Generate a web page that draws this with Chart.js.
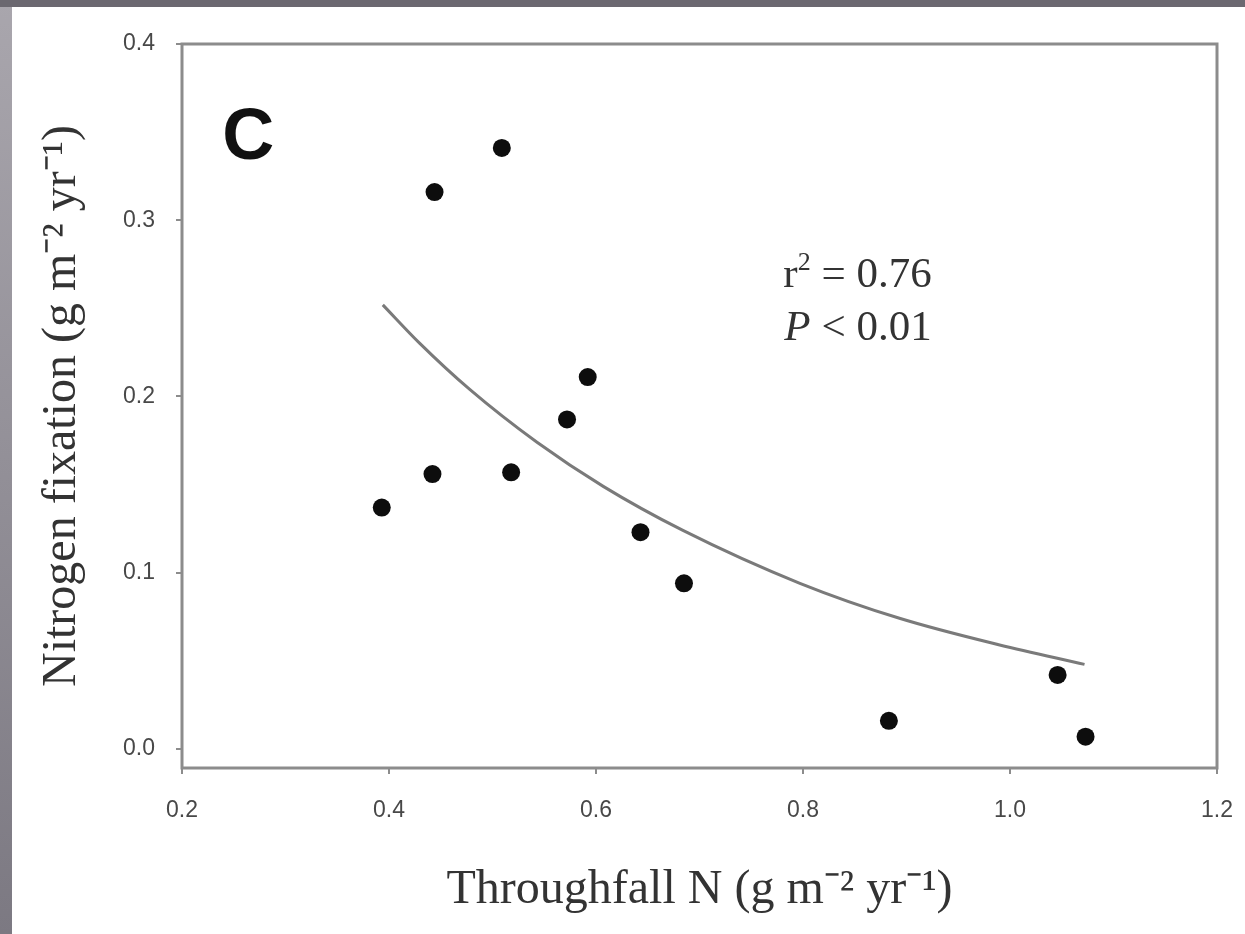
<!DOCTYPE html>
<html>
<head>
<meta charset="utf-8">
<script src="https://cdn.jsdelivr.net/npm/chart.js@4.4.1/dist/chart.umd.min.js"></script>
<style>
  html, body { margin: 0; padding: 0; }
  body { width: 1245px; height: 934px; overflow: hidden; position: relative;
         background: linear-gradient(to bottom, #a9a6ad, #7c7982); }
  #topband { position: absolute; left: 0; top: 0; width: 1245px; height: 7px; background: #6b6870; }
  #panel { position: absolute; left: 12px; top: 7px; width: 1233px; height: 927px; background: #fff; }
</style>
</head>
<body>
<div id="topband"></div>
<div id="panel"><canvas id="chart" width="1233" height="927"></canvas></div>
<script>
// observed plots
const throughfallN = [0.393, 0.442, 0.444, 0.509, 0.518, 0.572, 0.592, 0.643, 0.685, 0.883, 1.046, 1.073];
const nFixation    = [0.137, 0.156, 0.316, 0.341, 0.157, 0.187, 0.211, 0.123, 0.094, 0.016, 0.042, 0.007];

// fitted curve
const fitThroughfall = [0.394, 0.430, 0.478, 0.543, 0.607, 0.684, 0.797, 0.894, 0.990, 1.072];
const fitFixation    = [0.252, 0.230, 0.204, 0.174, 0.149, 0.124, 0.094, 0.074, 0.059, 0.048];

const xTickValues = [0.2, 0.4, 0.6, 0.8, 1.0, 1.2];
const yTickValues = [0.0, 0.1, 0.2, 0.3, 0.4];

const panelLabel = 'C';
const r2Value = '0.76';
const pValue = '0.01';
const xTitle = 'Throughfall N (g m⁻² yr⁻¹)';
const yTitle = 'Nitrogen fixation (g m⁻² yr⁻¹)';

const tickFont = { family: '"Liberation Sans", Arial, sans-serif', size: 23 };
const titleFont = { family: '"Liberation Serif", "Times New Roman", serif', size: 48 };
const serif = '"Liberation Serif", "Times New Roman", serif';
const axisGray = '#8c8c8c';

const framePlugin = {
    id: 'frame',
    beforeDatasetsDraw(chart) {
        const { ctx, chartArea: a } = chart;
        ctx.save();
        ctx.strokeStyle = axisGray;
        ctx.lineWidth = 3;
        ctx.strokeRect(a.left, a.top, a.right - a.left, a.bottom - a.top);
        ctx.restore();
    }
};

const annotationPlugin = {
    id: 'annotations',
    afterDatasetsDraw(chart) {
        const ctx = chart.ctx;
        const xs = chart.scales.x;
        const ys = chart.scales.y;
        ctx.save();
        ctx.fillStyle = '#111';
        ctx.textAlign = 'left';
        ctx.textBaseline = 'middle';
        ctx.font = 'bold 72px "Liberation Sans", Arial, sans-serif';
        ctx.fillText(panelLabel, xs.getPixelForValue(0.239), ys.getPixelForValue(0.346));

        // r^2 line
        ctx.fillStyle = '#333';
        ctx.textBaseline = 'alphabetic';
        let x = xs.getPixelForValue(0.781);
        let y = ys.getPixelForValue(0.262);
        ctx.font = '43px ' + serif;
        ctx.fillText('r', x, y);
        x += ctx.measureText('r').width;
        ctx.font = '26px ' + serif;
        ctx.fillText('2', x, y - 17);
        x += ctx.measureText('2').width;
        ctx.font = '43px ' + serif;
        ctx.fillText(' = ' + r2Value, x, y);

        // P line
        x = xs.getPixelForValue(0.782);
        y = ys.getPixelForValue(0.232);
        ctx.font = 'italic 43px ' + serif;
        ctx.fillText('P', x, y);
        x += ctx.measureText('P').width;
        ctx.font = '43px ' + serif;
        ctx.fillText(' < ' + pValue, x, y);
        ctx.restore();
    }
};

new Chart(document.getElementById('chart'), {
    type: 'scatter',
    data: {
        datasets: [
            {
                label: 'fit',
                data: fitThroughfall.map((v, i) => ({ x: v, y: fitFixation[i] })),
                showLine: true,
                pointRadius: 0,
                borderColor: '#7a7a7a',
                borderWidth: 3,
                cubicInterpolationMode: 'monotone',
                fill: false,
                order: 2
            },
            {
                label: 'observed',
                data: throughfallN.map((v, i) => ({ x: v, y: nFixation[i] })),
                showLine: false,
                pointRadius: 9,
                pointBackgroundColor: '#0d0d0d',
                pointBorderWidth: 0,
                order: 1
            }
        ]
    },
    options: {
        responsive: false,
        animation: false,
        layout: { padding: { top: 37, right: 28, left: 0, bottom: 0 } },
        plugins: {
            legend: { display: false },
            tooltip: { enabled: false }
        },
        scales: {
            x: {
                type: 'linear',
                min: 0.2,
                max: 1.2,
                afterBuildTicks: (s) => { s.ticks = xTickValues.map(v => ({ value: v })); },
                afterFit: (s) => {
                    s.height = 166;
                    // label padding would otherwise pull the plot in from the right
                    s.paddingLeft = 0;
                    s.paddingRight = 0;
                },
                ticks: {
                    callback: (v) => v.toFixed(1),
                    font: tickFont,
                    color: '#484848',
                    padding: 23,
                    maxRotation: 0
                },
                grid: { drawOnChartArea: false, drawTicks: true, tickLength: 6, color: axisGray, lineWidth: 2 },
                border: { display: false },
                title: {
                    display: true,
                    text: xTitle,
                    font: titleFont,
                    color: '#333',
                    padding: { top: 15, bottom: 15 }
                }
            },
            y: {
                type: 'linear',
                min: -0.0108,
                max: 0.4,
                afterBuildTicks: (s) => { s.ticks = yTickValues.map(v => ({ value: v })); },
                afterFit: (s) => { s.width = 170; },
                ticks: {
                    callback: (v) => v.toFixed(1),
                    font: tickFont,
                    color: '#484848',
                    padding: 21
                },
                grid: { drawOnChartArea: false, drawTicks: true, tickLength: 6, color: axisGray, lineWidth: 2 },
                border: { display: false },
                title: {
                    display: true,
                    text: yTitle,
                    font: titleFont,
                    color: '#333',
                    padding: { top: 22, bottom: 22 }
                }
            }
        }
    },
    plugins: [framePlugin, annotationPlugin]
});
</script>
</body>
</html>
